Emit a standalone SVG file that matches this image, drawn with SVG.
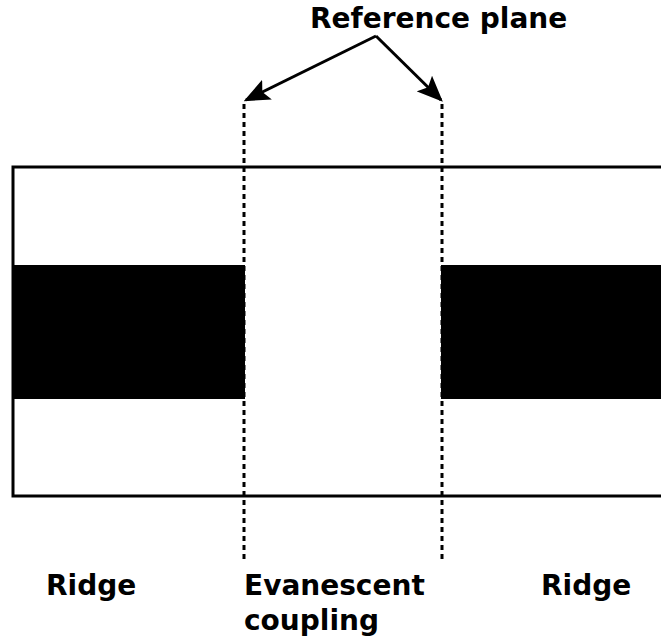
<svg xmlns="http://www.w3.org/2000/svg" width="661" height="641" viewBox="0 0 661 641">
<style>
text{font-family:"DejaVu Sans",sans-serif;font-weight:bold;font-size:28px;fill:#000}
.dash{stroke:#000;stroke-width:3;stroke-dasharray:5,4;fill:none}
.arr{stroke:#000;stroke-width:3;fill:none}
</style>
<defs>
<marker id="ah2" viewBox="0 0 10 10" refX="9" refY="5" markerWidth="26" markerHeight="22" orient="auto" markerUnits="userSpaceOnUse" preserveAspectRatio="none">
<path d="M0,0 L10,5 L0,10 L2,5 z" fill="#000"/>
</marker>
</defs>
<g id="waveguide">
<path d="M661,167 L13,167 L13,496 L661,496" fill="#fff" stroke="#000" stroke-width="3"/>
</g>
<g id="ridge-left"><rect x="12" y="265" width="233" height="134" fill="#000"/></g>
<g id="ridge-right"><rect x="441" y="265" width="220" height="134" fill="#000"/></g>
<g id="connectors">
<line class="dash" x1="244" y1="104" x2="244" y2="563"/>
<line class="dash" x1="442" y1="104" x2="442" y2="563"/>
<path class="arr" d="M376,36 L246,100" marker-end="url(#ah2)"/>
<path class="arr" d="M376,36 L441,100" marker-end="url(#ah2)"/>
</g>
<g id="labels">
<text x="310" y="28">Reference plane</text>
<text x="46" y="595">Ridge</text>
<text x="244" y="595">Evanescent</text>
<text x="244" y="630">coupling</text>
<text x="541" y="595">Ridge</text>
</g>
</svg>
